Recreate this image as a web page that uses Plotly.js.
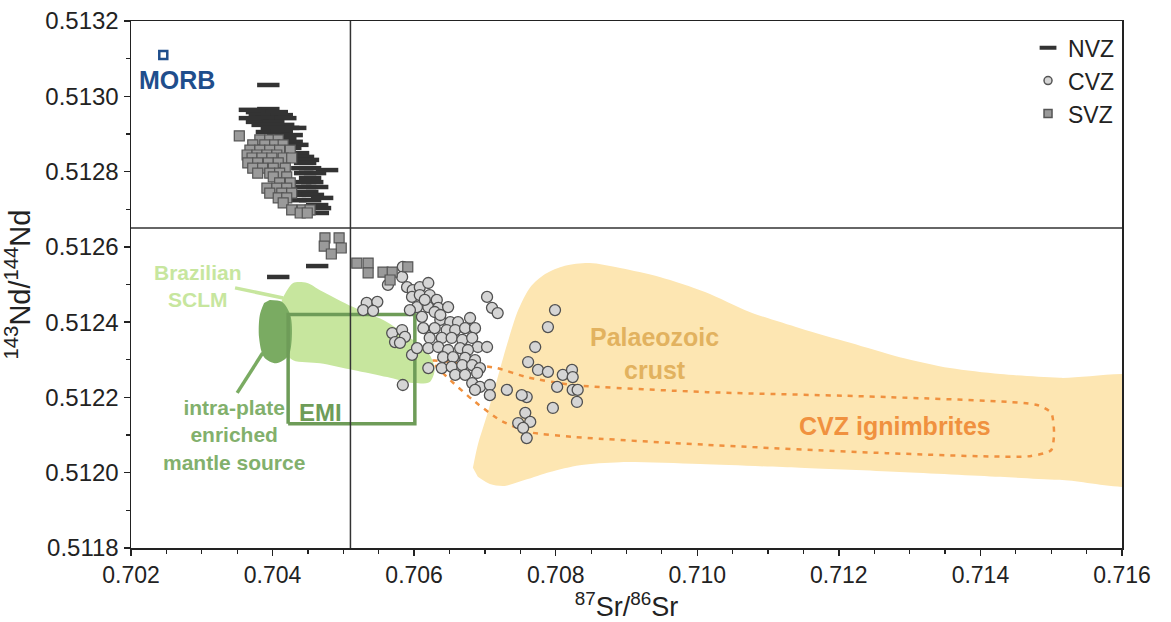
<!DOCTYPE html>
<html>
<head>
<meta charset="utf-8">
<script src="https://cdn.plot.ly/plotly-3.0.1.min.js"></script>
<style>
  html, body { margin: 0; padding: 0; background: #ffffff; }
  #chart { width: 1171px; height: 622px; }
</style>
</head>
<body>
<div id="chart"></div>
<script>
// ---------- reference lines ----------
const refSr = 0.7051;
const refNd = 0.51265;

// ---------- MORB ----------
const morbSr = [0.702456];
const morbNd = [0.51311];

// ---------- NVZ samples ----------
const nvzSr = [0.70394,0.70394,0.70378,0.70406,0.70382,0.70413,0.70392,0.70418,0.70378,0.70401,
  0.70386,0.70415,0.70399,0.70422,0.70392,0.70413,0.70408,0.70427,0.70418,0.70427,
  0.70435,0.70425,0.70436,0.70443,0.70439,0.70450,0.70446,0.70442,0.70453,0.70477,
  0.70446,0.70460,0.70453,0.70439,0.70456,0.70446,0.70463,0.70449,0.70439,0.70457,
  0.70453,0.70463,0.70467,0.70464,0.70408,0.70463,0.70368,0.70432,0.70368,0.70432,0.70470];
const nvzNd = [0.51303,0.512966,0.512958,0.512958,0.51295,0.51295,0.512942,0.512942,0.512932,0.512932,
  0.512924,0.512924,0.512916,0.512916,0.512905,0.512905,0.512897,0.512897,0.512889,0.512879,
  0.512871,0.512863,0.512849,0.512839,0.512831,0.512831,0.512823,0.512809,0.512809,0.512804,
  0.512796,0.512796,0.512783,0.512772,0.512772,0.512759,0.512759,0.512746,0.512738,0.512738,
  0.512724,0.512711,0.512703,0.51269,0.51252,0.512549,0.512964,0.512916,0.512942,0.512724,0.51273];

// ---------- SVZ samples ----------
const svzSr = [0.70353,
  0.70382,0.70396,0.70408,
  0.70372,0.70389,0.70403,0.70415,
  0.70368,0.70382,0.70396,0.70410,0.70425,
  0.70364,0.70378,0.70392,0.70406,
  0.70371,0.70385,0.70399,0.70415,0.70427,
  0.70365,0.70379,0.70394,0.70408,
  0.70372,0.70386,0.70401,0.70418,
  0.70379,0.70396,0.70410,
  0.70401,0.70420,
  0.70410,0.70425,
  0.70392,0.70406,0.70420,
  0.70396,0.70413,0.70427,
  0.70408,0.70420,
  0.70415,
  0.70427,0.70442,0.70453,
  0.70439,0.70449,
  0.70474,0.70494,0.70473,0.70497,0.70483,
  0.70519,0.70535,0.70535,0.70556,0.70569,0.70566,0.70591];
const svzNd = [0.512895,
  0.512884,0.512884,0.512884,
  0.512871,0.512871,0.512871,0.512871,
  0.512857,0.512857,0.512857,0.512857,0.512857,
  0.512844,0.512844,0.512844,0.512844,
  0.512836,0.512836,0.512836,0.512836,0.512836,
  0.512823,0.512823,0.512823,0.512823,
  0.512809,0.512809,0.512809,0.512809,
  0.512796,0.512796,0.512796,
  0.512786,0.512786,
  0.51277,0.51277,
  0.512756,0.512756,0.512756,
  0.512743,0.512743,0.512743,
  0.51273,0.51273,
  0.512717,
  0.512698,0.512698,0.512698,
  0.51269,0.51269,
  0.512624,0.512624,0.512602,0.512597,0.512581,
  0.512557,0.512557,0.512531,0.512533,0.512533,0.512512,0.512547];

// ---------- CVZ samples ----------
const cvzSr = [0.70533,0.70548,0.70528,0.70542,0.70563,0.70569,0.70583,0.70587,0.70573,0.70580,
  0.70597,0.70584,0.70584,0.70583,0.70590,0.70598,0.70608,0.70620,0.70597,0.70608,
  0.70622,0.70632,0.70604,0.70620,0.70634,0.70594,0.70611,0.70629,0.70648,0.70637,
  0.70651,0.70662,0.70679,0.70703,0.70710,0.70718,0.70613,0.70629,0.70646,0.70658,
  0.70672,0.70686,0.70622,0.70639,0.70653,0.70668,0.70682,0.70690,0.70703,0.70604,
  0.70620,0.70634,0.70648,0.70665,0.70676,0.70641,0.70655,0.70672,0.70686,0.70620,
  0.70639,0.70653,0.70668,0.70682,0.70693,0.70658,0.70672,0.70689,0.70682,0.70693,
  0.70707,0.70731,0.70759,0.70707,0.70686,0.70752,0.70799,0.70789,0.70771,0.70761,
  0.70775,0.70789,0.70810,0.70823,0.70824,0.70802,0.70824,0.70831,0.70830,0.70796,
  0.70757,0.70764,0.70747,0.70754,0.70759,0.70637,0.70615];
const cvzNd = [0.512451,0.512454,0.512432,0.51243,0.512499,0.512371,0.512379,0.512361,0.512347,0.512345,
  0.512313,0.512233,0.512547,0.51252,0.512493,0.512485,0.512493,0.512504,0.512467,0.512472,
  0.512472,0.512459,0.51244,0.51244,0.512438,0.512432,0.512414,0.512427,0.51244,0.512406,
  0.5124,0.5124,0.512411,0.512467,0.512438,0.512424,0.512384,0.512384,0.512379,0.512379,
  0.512384,0.512384,0.512358,0.512358,0.512358,0.512353,0.512358,0.512334,0.512334,0.512331,
  0.512331,0.512334,0.512326,0.512331,0.512326,0.512307,0.512307,0.512305,0.512299,0.512278,
  0.512278,0.512281,0.512286,0.512286,0.512278,0.51226,0.51226,0.512265,0.512238,0.512228,
  0.512233,0.51222,0.512201,0.512206,0.51222,0.512206,0.512432,0.512387,0.512334,0.512294,
  0.512273,0.512268,0.51226,0.512273,0.512254,0.512228,0.51222,0.51222,0.512188,0.512172,
  0.512159,0.512135,0.512132,0.512119,0.512092,0.512419,0.512459];

// ---------- fields ----------
const crustSr = [0.70683,0.70690,0.70703,0.70717,0.70731,0.70747,0.70764,0.70785,0.70813,0.70848,
  0.70891,0.70947,0.71011,0.71074,0.71145,0.71216,0.71286,0.71357,0.71428,0.71512,
  0.7165,0.7165,0.71512,0.71428,0.71286,0.71145,0.71004,0.70891,0.70834,0.70792,
  0.70757,0.70728,0.70707,0.70690];
const crustNd = [0.512013,0.512074,0.512153,0.512246,0.512339,0.512432,0.512493,0.512528,0.51255,0.512557,
  0.512544,0.51252,0.51248,0.512427,0.512384,0.512345,0.512307,0.512278,0.512262,0.512252,
  0.512245,0.511975,0.511981,0.511989,0.512002,0.512013,0.512023,0.512028,0.51202,0.512002,
  0.511981,0.511965,0.51197,0.511989];

const ignSr = [0.70625,0.70672,0.70717,0.70759,0.70824,0.71014,0.71267,0.71480,0.71500,0.71504,
  0.71500,0.71470,0.71267,0.71014,0.70826,0.70762,0.70721,0.70683,0.70651,0.70632,0.70625];
const ignNd = [0.512297,0.512289,0.512278,0.512254,0.512233,0.512214,0.512201,0.51218,0.512159,0.512106,
  0.51206,0.512044,0.512052,0.512074,0.512095,0.512108,0.51214,0.512193,0.512246,0.512281,0.512297];

const sclmSr = [0.70415,0.70429,0.70449,0.70467,0.70514,0.70562,0.70598,0.70622,0.70629,0.70622,
  0.70598,0.70562,0.70514,0.70467,0.70429,0.70408,0.70403];
const sclmNd = [0.512467,0.512504,0.512504,0.512485,0.51244,0.5124,0.512353,0.512313,0.512273,0.512241,
  0.512238,0.512254,0.512273,0.512291,0.512299,0.512339,0.512406];

const emsSr = [0.70396,0.70413,0.70425,0.70427,0.70422,0.70405,0.70388,0.70381,0.70382,0.70388];
const emsNd = [0.512459,0.512454,0.512419,0.512353,0.51231,0.512291,0.512307,0.512358,0.512419,0.512451];

const emiSr = [0.70422, 0.70601];
const emiNd = [0.51213, 0.51242];

const sclmPtrSr = [0.70347, 0.70415];
const sclmPtrNd = [0.512491, 0.512464];
const emsPtrSr = [0.70350, 0.70386];
const emsPtrNd = [0.512212, 0.512318];

const legendNames = ['NVZ', 'CVZ', 'SVZ'];

// ---------- styles ----------
const FONT = 'Arial, "Liberation Sans", Helvetica, sans-serif';
const colCrust = '#fde6b2';
const colIgn = '#f0913f';
const colSclm = '#c7e69e';
const colEms = '#7aab62';
const colEmi = '#6e9c58';

const traces = [
  { x: crustSr, y: crustNd, mode: 'lines', fill: 'toself', fillcolor: colCrust,
    line: { color: colCrust, width: 0, shape: 'spline', smoothing: 0.8 }, hoverinfo: 'skip', showlegend: false },
  { x: ignSr, y: ignNd, mode: 'lines',
    line: { color: colIgn, width: 2.5, dash: '5px,6px', shape: 'spline', smoothing: 0.6 }, hoverinfo: 'skip', showlegend: false },
  { x: sclmSr, y: sclmNd, mode: 'lines', fill: 'toself', fillcolor: colSclm,
    line: { color: colSclm, width: 0, shape: 'spline', smoothing: 0.8 }, hoverinfo: 'skip', showlegend: false },
  { x: sclmPtrSr, y: sclmPtrNd, mode: 'lines', line: { color: colSclm, width: 3.5 }, hoverinfo: 'skip', showlegend: false },
  { x: emsSr, y: emsNd, mode: 'lines', fill: 'toself', fillcolor: colEms,
    line: { color: colEms, width: 0, shape: 'spline', smoothing: 0.9 }, hoverinfo: 'skip', showlegend: false },
  { x: emsPtrSr, y: emsPtrNd, mode: 'lines', line: { color: colEms, width: 3.5 }, hoverinfo: 'skip', showlegend: false },
  { x: [emiSr[0], emiSr[1], emiSr[1], emiSr[0], emiSr[0]],
    y: [emiNd[0], emiNd[0], emiNd[1], emiNd[1], emiNd[0]],
    mode: 'lines', line: { color: colEmi, width: 3.5 }, hoverinfo: 'skip', showlegend: false },
  { x: nvzSr, y: nvzNd, mode: 'markers', name: 'NVZ', showlegend: false,
    marker: { symbol: 'line-ew', size: 16, line: { color: '#333333', width: 4.5 } } },
  { x: cvzSr, y: cvzNd, mode: 'markers', name: 'CVZ', showlegend: false,
    marker: { symbol: 'circle', size: 11, color: '#d5d5d5', line: { color: '#505050', width: 1.3 } } },
  { x: svzSr, y: svzNd, mode: 'markers', name: 'SVZ', showlegend: false,
    marker: { symbol: 'square', size: 10, color: '#9a9a9a', line: { color: '#555555', width: 1.2 } } },
  { x: morbSr, y: morbNd, mode: 'markers', name: 'MORB', showlegend: false,
    marker: { symbol: 'square-open', size: 8, color: '#1f4e8c', line: { width: 2.5 } } },
  // legend entries
  { x: [null], y: [null], mode: 'markers', name: legendNames[0],
    marker: { symbol: 'line-ew', size: 12, line: { color: '#333333', width: 4 } } },
  { x: [null], y: [null], mode: 'markers', name: legendNames[1],
    marker: { symbol: 'circle', size: 8, color: '#d5d5d5', line: { color: '#555555', width: 1.5 } } },
  { x: [null], y: [null], mode: 'markers', name: legendNames[2],
    marker: { symbol: 'square', size: 8, color: '#9a9a9a', line: { color: '#555555', width: 1.5 } } }
];

const layout = {
  width: 1171, height: 622,
  margin: { l: 131, r: 49, t: 21, b: 74 },
  paper_bgcolor: '#ffffff', plot_bgcolor: '#ffffff',
  font: { family: FONT, color: '#222222' },
  showlegend: true,
  legend: { x: 0.997, xanchor: 'right', y: 0.99, yanchor: 'top',
    bgcolor: 'rgba(0,0,0,0)', font: { size: 23, family: FONT, color: '#222' },
    itemwidth: 30, tracegroupgap: 0 },
  xaxis: {
    range: [0.702, 0.716], tick0: 0.702, dtick: 0.002, tickformat: '.3f',
    ticks: 'outside', ticklen: 6, tickwidth: 1.5, tickcolor: '#222',
    minor: { dtick: 0.0005, ticks: 'outside', ticklen: 4, tickwidth: 1.2, tickcolor: '#222', showgrid: false },
    showline: true, mirror: true, linecolor: '#222', linewidth: 1.5,
    showgrid: false, zeroline: false,
    tickfont: { size: 23, family: FONT, color: '#222' },
    title: { text: '<sup>87</sup>Sr/<sup>86</sup>Sr', font: { size: 27, family: FONT, color: '#222' }, standoff: 13 }
  },
  yaxis: {
    range: [0.5118, 0.5132], tick0: 0.5118, dtick: 0.0002, tickformat: '.4f',
    ticks: 'outside', ticklen: 6, tickwidth: 1.5, tickcolor: '#222',
    minor: { dtick: 0.0001, ticks: 'outside', ticklen: 4, tickwidth: 1.2, tickcolor: '#222', showgrid: false },
    showline: true, mirror: true, linecolor: '#222', linewidth: 1.5,
    showgrid: false, zeroline: false,
    tickfont: { size: 24, family: FONT, color: '#222' },
    title: { text: '<sup>143</sup>Nd/<sup>144</sup>Nd', font: { size: 29, family: FONT, color: '#222' }, standoff: 6 }
  },
  shapes: [
    { type: 'line', xref: 'x', yref: 'paper', x0: refSr, x1: refSr, y0: 0, y1: 1,
      line: { color: '#333', width: 1.5 }, layer: 'above' },
    { type: 'line', xref: 'paper', yref: 'y', x0: 0, x1: 1, y0: refNd, y1: refNd,
      line: { color: '#333', width: 1.5 }, layer: 'above' }
  ],
  annotations: [
    { x: 0.70265, y: 0.513043, xref: 'x', yref: 'y', showarrow: false,
      text: '<b>MORB</b>', font: { size: 25, family: FONT, color: '#1f4e8c' } },
    { x: 0.70295, y: 0.512496, xref: 'x', yref: 'y', showarrow: false,
      text: '<b>Brazilian</b><br><b>SCLM</b>', font: { size: 21, family: FONT, color: colSclm } },
    { x: 0.70345, y: 0.5121, xref: 'x', yref: 'y', showarrow: false,
      text: '<b>intra-plate</b><br><b>enriched</b><br><b>mantle source</b>', font: { size: 21, family: FONT, color: '#82b06c' } },
    { x: 0.70467, y: 0.512161, xref: 'x', yref: 'y', showarrow: false,
      text: '<b>EMI</b>', font: { size: 24, family: FONT, color: colEmi } },
    { x: 0.70940, y: 0.512318, xref: 'x', yref: 'y', showarrow: false,
      text: '<b>Palaeozoic</b><br><b>crust</b>', font: { size: 25, family: FONT, color: '#e2b25f' } },
    { x: 0.71279, y: 0.512124, xref: 'x', yref: 'y', showarrow: false,
      text: '<b>CVZ ignimbrites</b>', font: { size: 25, family: FONT, color: colIgn } }
  ]
};

Plotly.newPlot('chart', traces, layout, { staticPlot: true, displayModeBar: false });
</script>
</body>
</html>
